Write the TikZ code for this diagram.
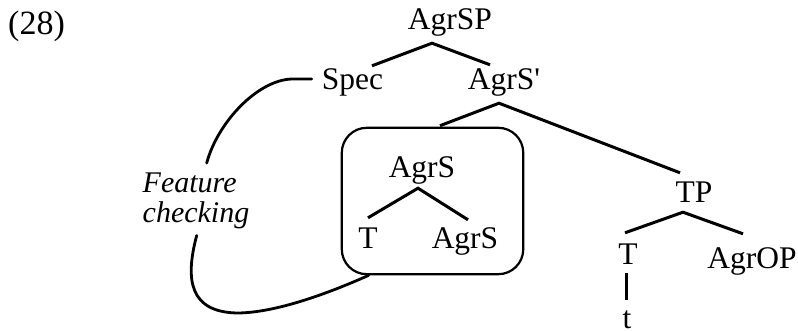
\documentclass[tikz,border=0pt]{standalone}
\usepackage{fontspec}
\setmainfont{Liberation Serif}[Ligatures=TeXOff]
\usetikzlibrary{positioning,fit}

\begin{document}
\begin{tikzpicture}[x=1pt, y=-1pt, node distance=60pt] % one unit is one pixel, y runs down
            \tikzstyle{word} = [inner sep=0pt, text height=20pt, text depth=6pt, font=\fontsize{31.5}{31.5}\selectfont]
            \tikzstyle{gloss} = [inner sep=0pt, align=left, font=\itshape\fontsize{30}{29.5}\selectfont]
            \tikzstyle{checkbox} = [draw, line width=2.2pt, rounded corners=25pt, inner xsep=20.6pt, inner ysep=24.5pt]
            \tikzstyle{branch} = [line width=3pt]
            \tikzstyle{link} = [line width=2.8pt, line cap=round]

            \useasboundingbox (0,0) rectangle (798,331);

            % Nodes
            \node (num) [word, anchor=base west, font=\fontsize{34}{34}\selectfont] at (8,35) {(28)};
            \node (agrsp) [word] at (450,23) {AgrSP};
            \node (spec) [word, below of=agrsp, xshift=-97.5pt] {Spec};
            \node (agrsbar) [word, below of=agrsp, xshift=54pt] {AgrS'};

            % Boxed head
            \node (agrsin) [word, below of=agrsbar, xshift=-82pt, yshift=-28pt] {AgrS};
            \node (tin) [word, below of=agrsin, xshift=-54pt, yshift=-10pt] {T};
            \node (agrsinb) [word, below of=agrsin, xshift=43pt, yshift=-11pt] {AgrS};
            \node (box) [checkbox, fit=(agrsin)(tin)(agrsinb), xshift=4.2pt, yshift=5.5pt] {};

            % Right branch
            \node (tp) [word, below of=agrsbar, xshift=190pt, yshift=-53pt] {TP};
            \node (tr) [word, below of=tp, xshift=-66pt, yshift=-2pt] {T};
            \node (agrop) [word, below of=tp, xshift=58pt, yshift=-6pt] {AgrOP};
            \node (trace) [word, text depth=0pt, below of=tr, xshift=-1pt] {t};

            \node (feat) [gloss] at (196,201) {Feature\\checking};

            % Branches
            \draw [branch] ([xshift=19.5pt, yshift=4pt]spec.north) -- ([xshift=-18pt, yshift=-7pt]agrsp.south) -- ([xshift=-14pt, yshift=5pt]agrsbar.north);
            \draw [branch] ([xshift=7.5pt, yshift=1pt]box.north) -- ([xshift=-5pt, yshift=-7pt]agrsbar.south) -- ([xshift=-14pt, yshift=10pt]tp.north);
            \draw [branch] ([yshift=10pt]tin.north) -- ([xshift=-4pt, yshift=-4pt]agrsin.south) -- ([xshift=3pt, yshift=9pt]agrsinb.north);
            \draw [branch] ([xshift=-3pt, yshift=12pt]tr.north) -- ([xshift=-11pt, yshift=-3pt]tp.south) -- ([xshift=-9pt, yshift=15pt]agrop.north);
            \draw [branch] ([xshift=-2pt, yshift=-2pt]tr.south) -- ([xshift=-1pt, yshift=8pt]trace.north);

            % Checking line
            \draw [link] ([xshift=-9.9pt, yshift=4pt]spec.west) -- ++(-20,0) .. controls +(-34,1) and +(11,-41) .. ([xshift=10.7pt, yshift=10pt]feat.north);
            \draw [link] ([xshift=0.7pt, yshift=-6.5pt]feat.south) .. controls +(-12,45) and +(-47,-1) .. (237,313) .. controls +(38,0) and +(-40,18) .. ([xshift=28pt]box.south west);
        \end{tikzpicture}
\end{document}
